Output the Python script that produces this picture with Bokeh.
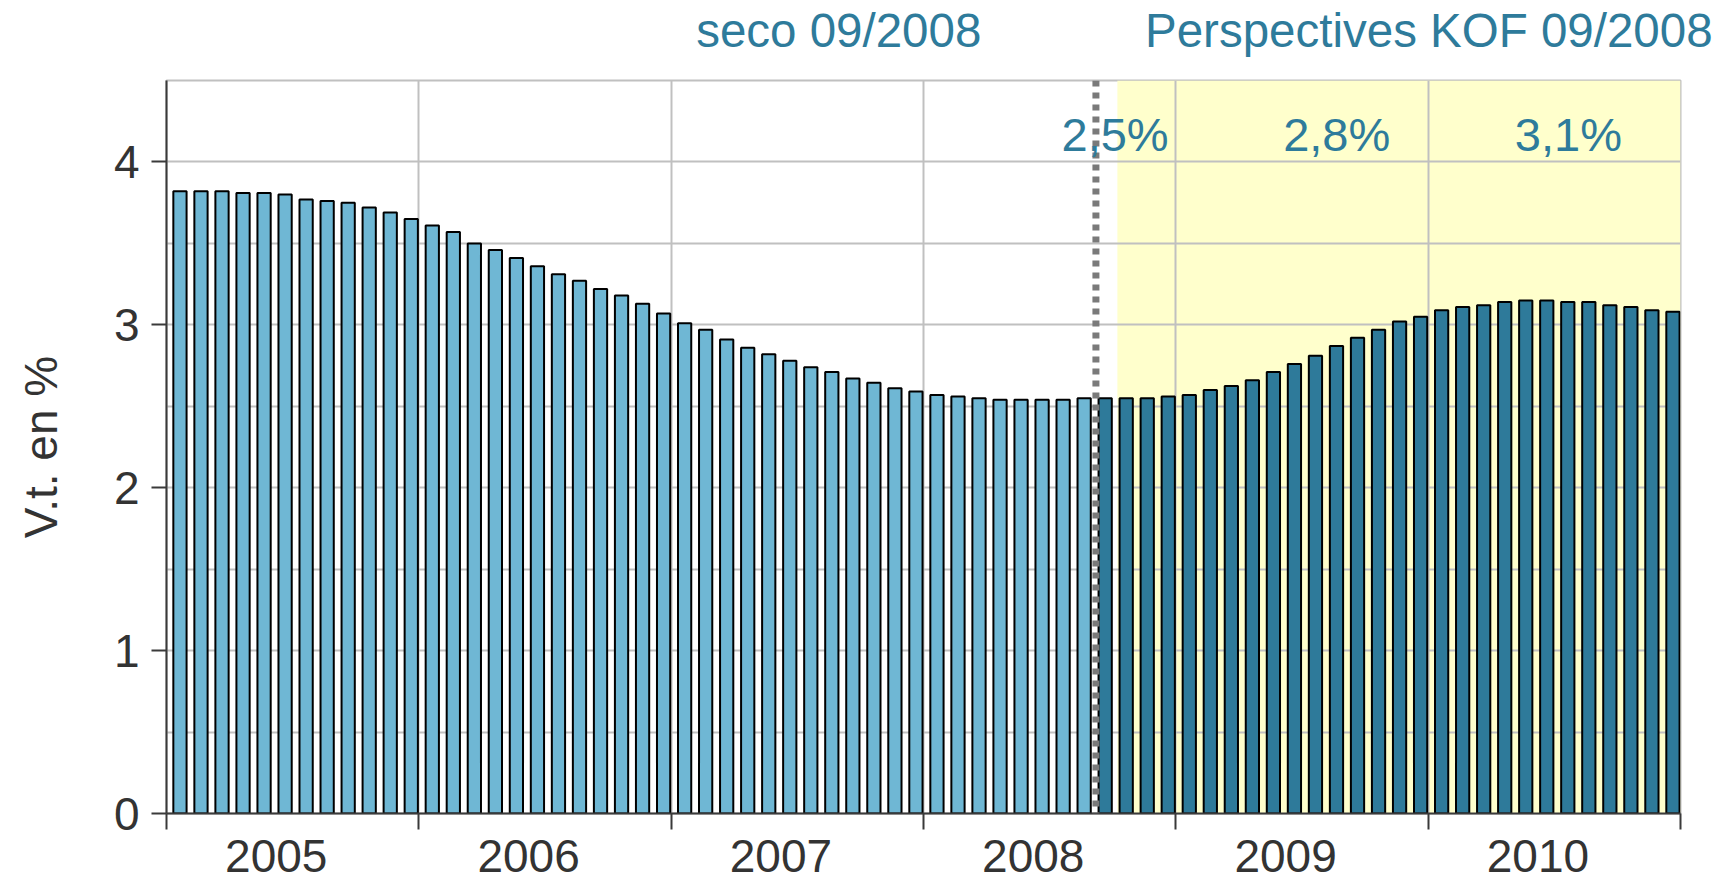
from bokeh.plotting import figure
from bokeh.models import (ColumnDataSource, FixedTicker, Range1d, Span,
                          BoxAnnotation, Label, LinearAxis)
from bokeh.embed import file_html
from bokeh.resources import INLINE

# ---------------- data ----------------
years = [2005, 2006, 2007, 2008, 2009, 2010]
year_labels = ["2005", "2006", "2007", "2008", "2009", "2010"]
months = [f"{y}-{m:02d}" for y in years for m in range(1, 13)]
values = [
    3.82, 3.82, 3.82, 3.81, 3.81, 3.80, 3.77, 3.76, 3.75, 3.72, 3.69, 3.65,   # 2005
    3.61, 3.57, 3.50, 3.46, 3.41, 3.36, 3.31, 3.27, 3.22, 3.18, 3.13, 3.07,   # 2006
    3.01, 2.97, 2.91, 2.86, 2.82, 2.78, 2.74, 2.71, 2.67, 2.645, 2.61, 2.59,  # 2007
    2.57, 2.56, 2.55, 2.54, 2.54, 2.54, 2.54, 2.55, 2.55, 2.55, 2.55, 2.56,   # 2008
    2.57, 2.60, 2.625, 2.66, 2.71, 2.76, 2.81, 2.87, 2.92, 2.97, 3.02, 3.05,  # 2009
    3.09, 3.11, 3.12, 3.14, 3.15, 3.15, 3.14, 3.14, 3.12, 3.11, 3.09, 3.08,   # 2010
]
forecast_start = "2008-09"          # first month of KOF forecast (dark bars)
annual_labels = ["2,5%", "2,8%", "3,1%"]
header_labels = ["seco 09/2008", "Perspectives KOF 09/2008"]
y_ticks = [0, 1, 2, 3, 4]

# ---------------- styling ----------------
LIGHT = "#6FB7D4"
DARK = "#2E7A9A"
TEAL_TXT = "#2E7B9B"
GRID = "#C0C0C0"
AXIS = "#3A3A3A"
TXT = "#333333"
FONT = "Liberation Sans"

fi = months.index(forecast_start)
xpos = [i + 0.64 for i in range(len(months))]
colors = [LIGHT if i < fi else DARK for i in range(len(months))]
src = ColumnDataSource(dict(x=xpos, top=values, color=colors, month=months))

n = len(months)
p = figure(width=1726, height=882, output_backend="svg", toolbar_location=None,
           x_range=Range1d(0, n), y_range=Range1d(0, 4.5),
           min_border_left=166, min_border_right=46,
           min_border_top=80, min_border_bottom=69)
p.background_fill_color = "white"
p.border_fill_color = "white"
p.outline_line_color = GRID
p.outline_line_width = 2

# forecast shading (below grid)
shade = BoxAnnotation(left=fi + 1.22, right=n, fill_color="#FFFFCC",
                      fill_alpha=1.0, line_color=None, level="image")
p.add_layout(shade)

p.vbar(x="x", top="top", width=0.63, source=src, fill_color="color",
       line_color="black", line_width=2)

# separation line
p.add_layout(Span(location=fi + 0.2, dimension="height", line_color="#7A7A7A",
                  line_width=7, line_dash="6 6"))

# ---------------- axes ----------------
year_mid = [12 * k + 5.22 for k in range(len(years))]
year_bounds = [12 * k for k in range(len(years) + 1)]

xa = p.xaxis[0]
xa.ticker = FixedTicker(ticks=year_mid, minor_ticks=year_bounds)
xa.major_label_overrides = {m: lab for m, lab in zip(year_mid, year_labels)}
xa.major_tick_out = 0
xa.major_tick_in = 0
xa.minor_tick_out = 16
xa.minor_tick_in = 0
xa.minor_tick_line_color = AXIS
xa.minor_tick_line_width = 2
xa.axis_line_color = AXIS
xa.axis_line_width = 2
xa.major_label_text_font = FONT
xa.major_label_text_font_size = "46px"
xa.major_label_text_color = TXT
xa.major_label_standoff = 10

ya = p.yaxis[0]
ya.ticker = FixedTicker(ticks=y_ticks, minor_ticks=[0.5, 1.5, 2.5, 3.5, 4.5])
ya.major_tick_out = 15
ya.major_tick_in = 0
ya.minor_tick_out = 0
ya.minor_tick_in = 0
ya.major_tick_line_color = AXIS
ya.major_tick_line_width = 2
ya.axis_line_color = AXIS
ya.axis_line_width = 2
ya.major_label_text_font = FONT
ya.major_label_text_font_size = "46px"
ya.major_label_text_color = TXT
ya.major_label_standoff = 12
ya.axis_label = "V.t. en %"
ya.axis_label_text_font = FONT
ya.axis_label_text_font_size = "46px"
ya.axis_label_text_font_style = "normal"
ya.axis_label_text_color = TXT
ya.axis_label_standoff = 44

# header texts as an unlined axis above the frame
header_x = [31.97, 60.03]
top_ax = LinearAxis(ticker=FixedTicker(ticks=header_x, minor_ticks=[]),
                    major_label_overrides={h: t for h, t in zip(header_x, header_labels)},
                    axis_line_color=None, major_tick_line_color=None,
                    minor_tick_line_color=None,
                    major_label_text_font=FONT, major_label_text_font_size="47.5px",
                    major_label_text_color=TEAL_TXT, major_label_standoff=18)
p.add_layout(top_ax, "above")

p.xgrid.ticker = FixedTicker(ticks=year_bounds[1:-1])
p.xgrid.grid_line_color = GRID
p.xgrid.grid_line_width = 2
p.ygrid.grid_line_color = GRID
p.ygrid.grid_line_width = 2
p.ygrid.minor_grid_line_color = GRID
p.ygrid.minor_grid_line_width = 2

# ---------------- annual growth labels ----------------
for xx, t in zip([45.11, 55.65, 66.67], annual_labels):
    p.add_layout(Label(x=xx, y=4.17, text=t, text_align="center",
                       text_baseline="middle", text_font=FONT,
                       text_font_size="47px", text_color=TEAL_TXT))

open("out.html", "w").write(file_html(p, INLINE))
